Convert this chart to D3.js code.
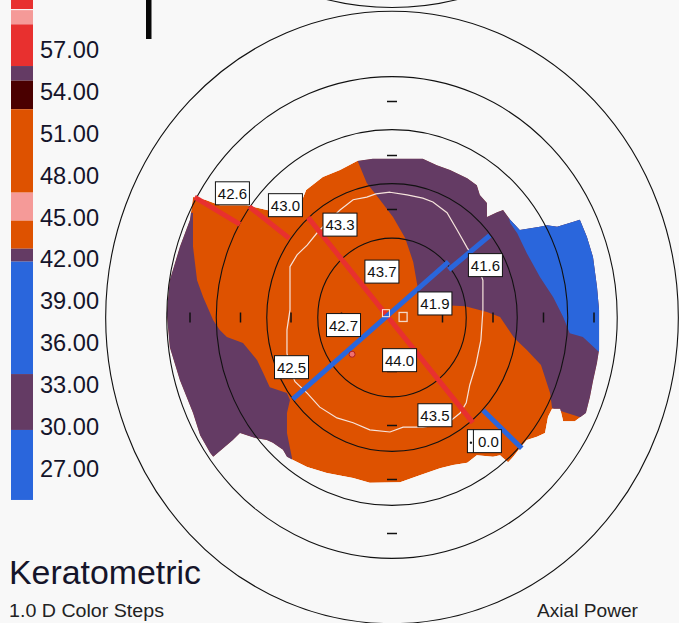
<!DOCTYPE html>
<html>
<head>
<meta charset="utf-8">
<script src="https://cdn.jsdelivr.net/npm/d3@7"></script>
<style>
  body { margin: 0; background: #f8f8f8; }
  svg { display: block; font-family: "Liberation Sans", Arial, sans-serif; }
</style>
</head>
<body>
<div id="map"></div>
<script>
// colours of the scale
var ORANGE = "#de5200", PURPLE = "#643b64", BLUE = "#2a66dc",
    RED = "#e8302f", PINK = "#f59a98", BROWN = "#4a0000", WHITE = "#f8f8f8";

// colour legend: step bounds (D) from top to bottom, and colour of each step
var legendBounds = [60.6, 59.93, 59.86, 58.84, 55.85, 54.80, 52.75, 46.77, 44.76, 42.75, 41.82, 33.76, 29.75, 24.73];
var legendColors = [RED, WHITE, PINK, RED, PURPLE, BROWN, ORANGE, PINK, ORANGE, PURPLE, BLUE, PURPLE, BLUE];
var legendLabels = [57, 54, 51, 48, 45, 42, 39, 36, 33, 30, 27];

// rings (mm) and axis ticks (mm)
var rings = [1.47, 2.48, 3.48, 4.46, 5.67];
var ticks = [-4, -3, -2, -1, 1, 2, 3, 4];
var neighbourRingY = 11.41;   // outer ring of the map above, cut by the frame

// map outline (mm), filled orange
var outline = [[-3.94,2.23],[-3.70,2.18],[-3.41,2.08],[-2.87,2.08],[-2.48,1.99],[-2.02,1.92],[-1.82,2.08],
  [-1.70,2.36],[-1.37,2.60],[-1.03,2.73],[-0.69,2.90],[-0.38,2.94],[0.61,2.94],[0.89,2.82],[1.15,2.73],
  [1.49,2.58],[1.68,2.45],[1.74,2.27],[1.88,2.12],[1.88,1.86],[2.08,1.95],[2.20,1.99],[2.34,1.81],
  [2.53,1.62],[2.93,1.68],[3.07,1.71],[3.27,1.68],[3.58,1.77],[3.72,1.81],[3.86,1.49],[3.98,1.12],
  [4.06,0.56],[4.10,0.14],[4.10,-0.60],[4.06,-0.84],[3.98,-1.18],[3.92,-1.47],[3.84,-1.77],[3.62,-1.92],
  [3.39,-1.92],[3.33,-1.69],[3.17,-1.69],[3.09,-1.84],[3.03,-2.14],[2.87,-2.21],[2.67,-2.27],[2.53,-2.42],
  [2.40,-2.58],[2.30,-2.68],[2.20,-2.60],[2.14,-2.55],[2.00,-2.58],[1.68,-2.55],[1.49,-2.69],[1.21,-2.73],
  [0.95,-2.79],[0.55,-2.92],[0.16,-3.05],[-0.44,-3.06],[-0.77,-2.97],[-1.29,-2.88],[-1.68,-2.77],
  [-1.96,-2.64],[-2.08,-2.58],[-2.16,-2.45],[-2.36,-2.32],[-2.48,-2.27],[-2.71,-2.23],[-3.01,-2.14],
  [-3.15,-2.27],[-3.54,-2.58],[-3.60,-2.51],[-3.80,-2.18],[-3.94,-1.77],[-4.20,-1.16],[-4.40,-0.55],
  [-4.46,0.08],[-4.40,0.69],[-4.20,1.31],[-4.00,1.81]];

// purple and blue zones (mm), clipped by the outline
var purpleLeft = [[-3.94,1.94],[-3.94,1.31],[-3.86,0.69],[-3.74,0.38],[-3.54,-0.05],[-3.41,-0.23],
  [-3.27,-0.36],[-2.95,-0.47],[-2.67,-0.79],[-2.55,-1.03],[-2.42,-1.29],[-2.08,-1.40],[-2.02,-1.53],
  [-2.08,-1.77],[-2.08,-2.14],[-1.98,-2.60],[-1.98,-3.75],[-4.79,-3.75],[-4.79,1.94]];
var purpleRight = [[-0.73,3.29],[-0.69,2.92],[-0.50,2.49],[-0.24,2.18],[0.02,1.86],[0.26,1.47],
  [0.42,1.03],[0.50,0.60],[0.55,0.29],[0.95,0.23],[1.45,0.21],[1.88,0.10],[2.14,0.01],[2.42,-0.38],
  [2.67,-0.60],[2.95,-0.88],[3.13,-1.40],[3.17,-1.68],[4.51,-2.08],[4.51,3.29]];
var blueZone = [[2.26,2.08],[2.34,1.75],[2.48,1.56],[2.67,1.19],[2.93,0.75],[3.19,0.38],[3.39,0.01],
  [3.52,-0.29],[3.78,-0.36],[4.10,-0.64],[4.91,-0.64],[4.91,2.55],[2.44,2.55]];

// white contour line (mm)
var contour = [[-0.04,2.32],[0.30,2.27],[0.61,2.21],[0.81,2.14],[1.09,1.94],[1.29,1.62],[1.49,1.29],
  [1.68,1.01],[1.80,0.69],[1.80,0.14],[1.76,-0.42],[1.66,-0.88],[1.54,-1.25],[1.47,-1.58],[1.35,-1.77],
  [1.15,-1.92],[0.89,-1.99],[0.61,-2.03],[0.22,-2.03],[-0.04,-2.12],[-0.44,-2.08],[-0.77,-1.95],
  [-1.09,-1.86],[-1.43,-1.66],[-1.68,-1.40],[-1.92,-1.19],[-2.02,-0.97],[-2.08,-0.66],[-2.08,-0.23],
  [-2.02,0.14],[-2.02,0.64],[-2.02,0.94],[-1.88,1.16],[-1.68,1.34],[-1.49,1.56],[-1.23,1.81],
  [-1.03,1.99],[-0.77,2.18],[-0.50,2.23],[-0.32,2.29]];

// meridian segments: polar start / end (deg, mm)
var meridians = [
  {a0: 150.3, r0: 4.50, a1: 150.2, r1: 3.47, color: RED},
  {a0: 144.0, r0: 3.49, a1: 144.2, r1: 2.51, color: RED},
  {a0: 131.9, r0: 2.49, a1: -50.6, r1: 2.52, color: RED},
  {a0: -43.6, r0: 2.49, a1: -43.3, r1: 3.53, color: BLUE},
  {a0: 217.6, r0: 2.48, a1: 42.6, r1: 1.52, color: BLUE},
  {a0: 38.2, r0: 1.43, a1: 38.1, r1: 2.46, color: BLUE}
];

// value boxes (mm position)
var labels = [
  {t: "42.6", x: -3.16, y: 2.30}, {t: "43.0", x: -2.11, y: 2.08}, {t: "43.3", x: -1.03, y: 1.72},
  {t: "43.7", x: -0.20, y: 0.85}, {t: "42.7", x: -0.96, y: -0.14}, {t: "41.9", x: 0.85, y: 0.26},
  {t: "44.0", x: 0.15, y: -0.79}, {t: "43.5", x: 0.85, y: -1.81}, {t: "41.6", x: 1.85, y: 0.97},
  {t: "42.5", x: -1.99, y: -0.92}, {t: "0.0", x: 1.83, y: -2.29, cut: true}
];

var W = 679, H = 623;
var cx = 392, cy = 317.5, pxX = 50.5, pxY = 54;

var svg = d3.select("#map").append("svg").attr("width", W).attr("height", H);
svg.append("rect").attr("width", W).attr("height", H).attr("fill", "#f8f8f8");

//scales: mm to pixels (picture is a bit stretched vertically)
var x = d3.scaleLinear().domain([-1, 1]).range([cx - pxX, cx + pxX]);
var y = d3.scaleLinear().domain([-1, 1]).range([cy + pxY, cy - pxY]);
var poly = d3.line().x(function(d){ return x(d[0]); }).y(function(d){ return y(d[1]); });
function px(a, r) { return [x(r * Math.cos(a * Math.PI / 180)), y(r * Math.sin(a * Math.PI / 180))]; }

// legend
var yLeg = d3.scaleLinear().domain([57, 27]).range([50, 468.3]);
svg.append("g").selectAll("rect").data(legendColors).join("rect")
  .attr("x", 11).attr("width", 22)
  .attr("y", function(d, i){ return yLeg(legendBounds[i]); })
  .attr("height", function(d, i){ return yLeg(legendBounds[i + 1]) - yLeg(legendBounds[i]); })
  .attr("fill", function(d){ return d; });
svg.append("g").selectAll("text").data(legendLabels).join("text")
  .attr("x", 40).attr("y", function(d){ return yLeg(d) + 8.3; })
  .attr("font-size", 23).attr("fill", "#14142a")
  .attr("textLength", 59).attr("lengthAdjust", "spacingAndGlyphs")
  .text(function(d){ return d.toFixed(2); });

// black bar at top
svg.append("rect").attr("x", 146).attr("y", 0).attr("width", 5.5).attr("height", 39).attr("fill", "#080808");

// coloured map
svg.append("defs").append("clipPath").attr("id", "clip")
  .append("path").attr("d", poly(outline) + "Z");
var map = svg.append("g").attr("clip-path", "url(#clip)");
map.append("path").attr("d", poly(outline) + "Z").attr("fill", ORANGE);
map.append("path").attr("d", poly(purpleLeft) + "Z").attr("fill", PURPLE);
map.append("path").attr("d", poly(purpleRight) + "Z").attr("fill", PURPLE);
map.append("path").attr("d", poly(blueZone) + "Z").attr("fill", BLUE);

svg.append("path").attr("d", poly(contour) + "Z")
  .attr("fill", "none").attr("stroke", "#f6e4dc").attr("stroke-width", 1.2);

// rings
svg.append("g").selectAll("ellipse").data(rings).join("ellipse")
  .attr("cx", x(0)).attr("cy", y(0))
  .attr("rx", function(d){ return x(d) - x(0); })
  .attr("ry", function(d){ return y(0) - y(d); })
  .attr("fill", "none").attr("stroke", "#111").attr("stroke-width", 1.1);
svg.append("ellipse")
  .attr("cx", x(0)).attr("cy", y(neighbourRingY))
  .attr("rx", x(rings[4]) - x(0)).attr("ry", y(0) - y(rings[4]))
  .attr("fill", "none").attr("stroke", "#111").attr("stroke-width", 1.1);

// axis ticks
svg.append("g").selectAll("line").data(ticks).join("line")
  .attr("x1", function(d){ return x(d); }).attr("x2", function(d){ return x(d); })
  .attr("y1", y(0) - 5).attr("y2", y(0) + 5)
  .attr("stroke", "#111").attr("stroke-width", 1.5);
svg.append("g").selectAll("line").data(ticks).join("line")
  .attr("y1", function(d){ return y(d); }).attr("y2", function(d){ return y(d); })
  .attr("x1", x(0) - 5).attr("x2", x(0) + 5)
  .attr("stroke", "#111").attr("stroke-width", 1.5);

// meridians
svg.append("g").selectAll("line").data(meridians).join("line")
  .attr("x1", function(d){ return px(d.a0, d.r0)[0]; }).attr("y1", function(d){ return px(d.a0, d.r0)[1]; })
  .attr("x2", function(d){ return px(d.a1, d.r1)[0]; }).attr("y2", function(d){ return px(d.a1, d.r1)[1]; })
  .attr("stroke", function(d){ return d.color; }).attr("stroke-width", 5);

// centre marks
svg.append("rect").attr("x", x(-0.12) - 3.5).attr("y", y(0.08) - 3.5).attr("width", 7).attr("height", 7)
  .attr("fill", "none").attr("stroke", "#fbe8dc").attr("stroke-width", 1);
svg.append("rect").attr("x", x(0.22) - 4).attr("y", y(0.01) - 4.5).attr("width", 8).attr("height", 9)
  .attr("fill", "none").attr("stroke", "#f3d9c9").attr("stroke-width", 1.3);
svg.append("circle").attr("cx", x(-0.79)).attr("cy", y(-0.68)).attr("r", 3)
  .attr("fill", "#f07070").attr("stroke", "#b02020").attr("stroke-width", 1);

// value boxes
var box = svg.append("g").selectAll("g").data(labels).join("g")
  .attr("transform", function(d){ return "translate(" + x(d.x) + "," + y(d.y) + ")"; });
box.append("rect").attr("x", -17).attr("y", -11.5).attr("width", 34).attr("height", 23)
  .attr("fill", "#fff").attr("stroke", "#111").attr("stroke-width", 1);
box.append("text").attr("x", function(d){ return d.cut ? 4 : 0; }).attr("y", 5.5)
  .attr("text-anchor", "middle").attr("font-size", 15).attr("fill", "#111")
  .text(function(d){ return d.t; });
box.filter(function(d){ return d.cut; }).append("line")
  .attr("x1", -11).attr("x2", -11).attr("y1", -11.5).attr("y2", 11.5).attr("stroke", "#111");
box.filter(function(d){ return d.cut; }).append("circle")
  .attr("cx", -13.5).attr("cy", 1.5).attr("r", 1.2).attr("fill", "#111");

// titles
svg.append("text").attr("x", 9).attr("y", 584).attr("font-size", 33).attr("fill", "#15152a")
  .attr("textLength", 192).attr("lengthAdjust", "spacingAndGlyphs").text("Keratometric");
svg.append("text").attr("x", 9).attr("y", 617).attr("font-size", 18).attr("fill", "#222")
  .attr("textLength", 155).attr("lengthAdjust", "spacingAndGlyphs").text("1.0 D Color Steps");
svg.append("text").attr("x", 537).attr("y", 617).attr("font-size", 18.5).attr("fill", "#222")
  .attr("textLength", 101).attr("lengthAdjust", "spacingAndGlyphs").text("Axial Power");
</script>
</body>
</html>
